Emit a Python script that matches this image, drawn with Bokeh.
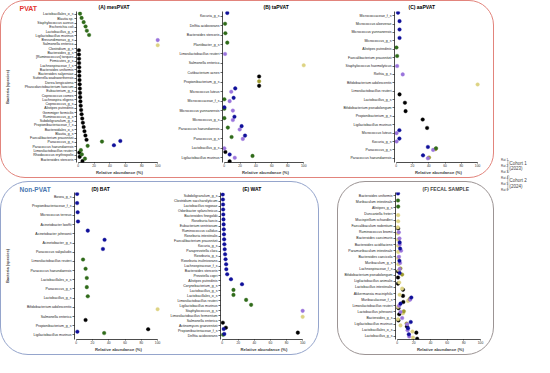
from bokeh.plotting import figure
from bokeh.models import (Range1d, FactorRange, FixedTicker, Label, Legend, LegendItem,
                          BoxAnnotation, ColumnDataSource, Spacer)
from bokeh.layouts import row, column
from bokeh.transform import dodge
from bokeh.embed import file_html
from bokeh.resources import INLINE

FONT = "Liberation Sans"
RAT_LABELS = ["Rat 1", "Rat 2", "Rat 3", "Rat 4", "Rat 5", "Rat 6"]
RAT_COLORS = ["#000000", "#ddd383", "#9e9b2e", "#9a74dc", "#2f6b1a", "#10109a"]
RAT_DODGE = [-0.38, -0.2, 0.1, 0.0, 0.2, 0.35]
X_TICKS = [0, 20, 40, 60, 80, 100]
COHORT_TEXT = ["Cohort 1", "(2023)", "Cohort 2", "(2024)"]
PANEL_TITLES = ["(A) mesPVAT", "(B) taPVAT", "(C) aaPVAT", "(D) BAT", "(E) WAT", "(F) FECAL SAMPLE"]
GROUP_TITLES = ["PVAT", "Non-PVAT"]

# ---------------- (A) mesPVAT ----------------
A_SPECIES = ["Lactobacillales_o_s", "Blautia sp.", "Staphylococcus aureus", "Escherichia coli",
             "Lactobacillus_g_s", "Ligilactobacillus murinus", "Brevundimonas_g_s", "Salmonella enterica",
             "Clostridium_g_s", "Bacteroides_g_s", "[Ruminococcus] torques", "Firmicutes_p_s",
             "Lachnospiraceae_f_s", "Bacteroides uniformis", "Bacteroides salyersiae",
             "Sutterella wadsworthensis", "Dorea longicatena", "Phascolarctobacterium faecium",
             "Eubacterium_g_s", "Coprococcus comes", "Lachnospira eligens", "Coprococcus_g_s",
             "Alistipes putredinis", "Gemmiger formicilis", "Ruminococcus_g_s", "Subdoligranulum_g_s",
             "Propionibacteriaceae_f_s", "Bacteroidales_o_s", "Blautia_g_s", "Faecalibacterium prausnitzii",
             "Paracoccus_g_s", "Paracoccus haeundaensis", "Limosilactobacillus reuteri",
             "Rhodococcus erythropolis", "Bacteroides stercoris"]
A_POINTS = [
    ("Lactobacillales_o_s", 5, 2.4), ("Blautia sp.", 5, 4.4), ("Staphylococcus aureus", 5, 7.0),
    ("Escherichia coli", 5, 9.4), ("Lactobacillus_g_s", 5, 11.0), ("Ligilactobacillus murinus", 5, 13.8),
    ("Brevundimonas_g_s", 4, 100), ("Salmonella enterica", 2, 100),
    ("Clostridium_g_s", 1, 1.0), ("Bacteroides_g_s", 1, 1.1), ("[Ruminococcus] torques", 1, 1.2),
    ("Firmicutes_p_s", 1, 1.3), ("Lachnospiraceae_f_s", 1, 1.4), ("Bacteroides uniformis", 1, 1.5),
    ("Bacteroides salyersiae", 1, 1.6), ("Sutterella wadsworthensis", 1, 1.8), ("Dorea longicatena", 1, 2.0),
    ("Phascolarctobacterium faecium", 1, 2.2), ("Eubacterium_g_s", 1, 2.4), ("Coprococcus comes", 1, 2.6),
    ("Lachnospira eligens", 1, 2.9), ("Coprococcus_g_s", 1, 3.3), ("Alistipes putredinis", 1, 3.8),
    ("Gemmiger formicilis", 1, 4.4), ("Ruminococcus_g_s", 1, 5.2), ("Subdoligranulum_g_s", 1, 6.0),
    ("Propionibacteriaceae_f_s", 1, 7.0), ("Bacteroidales_o_s", 1, 8.0), ("Blautia_g_s", 1, 9.2),
    ("Faecalibacterium prausnitzii", 1, 10.6),
    ("Paracoccus_g_s", 5, 30), ("Paracoccus_g_s", 6, 53),
    ("Paracoccus haeundaensis", 6, 45), ("Paracoccus haeundaensis", 5, 12),
    ("Limosilactobacillus reuteri", 5, 3.5), ("Limosilactobacillus reuteri", 1, 1.5),
    ("Rhodococcus erythropolis", 5, 4.7), ("Rhodococcus erythropolis", 1, 2.0),
    ("Bacteroides stercoris", 5, 8.6), ("Bacteroides stercoris", 1, 5.5),
]

# ---------------- (B) taPVAT ----------------
B_SPECIES = ["Kocuria_g_s", "Delftia acidovorans", "Bacteroides stercoris", "Plantibacter_g_s",
             "Limosilactobacillus reuteri", "Salmonella enterica", "Cutibacterium acnes",
             "Propionibacterium_g_s", "Micrococcus luteus", "Micrococcaceae_f_s", "Micrococcus yunnanensis",
             "Micrococcus_g_s", "Paracoccus haeundaensis", "Paracoccus_g_s", "Lactobacillus_g_s",
             "Ligilactobacillus murinus"]
B_POINTS = [
    ("Kocuria_g_s", 6, 4), ("Delftia acidovorans", 5, 1.2), ("Bacteroides stercoris", 5, 1.6),
    ("Plantibacter_g_s", 5, 4), ("Limosilactobacillus reuteri", 4, 1.2), ("Salmonella enterica", 2, 100),
    ("Cutibacterium acnes", 1, 44), ("Propionibacterium_g_s", 3, 44), ("Propionibacterium_g_s", 1, 44),
    ("Micrococcus luteus", 6, 14), ("Micrococcus luteus", 4, 9),
    ("Micrococcaceae_f_s", 6, 12), ("Micrococcaceae_f_s", 4, 7), ("Micrococcaceae_f_s", 5, 0.3),
    ("Micrococcus yunnanensis", 6, 0.3), ("Micrococcus yunnanensis", 5, 0.3), ("Micrococcus yunnanensis", 4, 11),
    ("Micrococcus_g_s", 6, 13), ("Micrococcus_g_s", 4, 11), ("Micrococcus_g_s", 5, 0.3),
    ("Paracoccus haeundaensis", 6, 22), ("Paracoccus haeundaensis", 4, 19.6), ("Paracoccus haeundaensis", 5, 4.7),
    ("Paracoccus_g_s", 6, 26.3), ("Paracoccus_g_s", 4, 23.5), ("Paracoccus_g_s", 5, 9.4),
    ("Lactobacillus_g_s", 4, 0.3), ("Lactobacillus_g_s", 1, 1.6),
    ("Ligilactobacillus murinus", 1, 7), ("Ligilactobacillus murinus", 6, 7),
    ("Ligilactobacillus murinus", 4, 13.4), ("Ligilactobacillus murinus", 5, 35.7),
]

# ---------------- (C) aaPVAT ----------------
C_SPECIES = ["Micrococcaceae_f_s", "Micrococcus aloeverae", "Micrococcus yunnanensis", "Micrococcus_g_s",
             "Alistipes putredinis", "Faecalibacterium prausnitzii", "Staphylococcus haemolyticus", "Rothia_g_s",
             "Bifidobacterium adolescentis", "Limosilactobacillus reuteri", "Lactobacillus_g_s",
             "Bifidobacterium pseudolongum", "Propionibacterium_g_s", "Ligilactobacillus murinus",
             "Micrococcus luteus", "Kocuria_g_s", "Paracoccus_g_s", "Paracoccus haeundaensis"]
C_POINTS = [
    ("Micrococcaceae_f_s", 6, 2.3), ("Micrococcus aloeverae", 6, 4.2), ("Micrococcus yunnanensis", 6, 4.2),
    ("Micrococcus_g_s", 6, 4.2), ("Alistipes putredinis", 5, 0.4), ("Faecalibacterium prausnitzii", 5, 1.2),
    ("Staphylococcus haemolyticus", 4, 1.2), ("Rothia_g_s", 4, 8.1), ("Bifidobacterium adolescentis", 2, 100),
    ("Limosilactobacillus reuteri", 1, 4.2), ("Lactobacillus_g_s", 1, 10.8),
    ("Bifidobacterium pseudolongum", 1, 11.6), ("Propionibacterium_g_s", 1, 32.6),
    ("Ligilactobacillus murinus", 1, 38), ("Micrococcus luteus", 6, 4), ("Micrococcus luteus", 4, 0.6),
    ("Kocuria_g_s", 6, 4), ("Kocuria_g_s", 4, 0.6),
    ("Paracoccus_g_s", 6, 39), ("Paracoccus_g_s", 4, 45.4), ("Paracoccus_g_s", 5, 49), ("Paracoccus_g_s", 3, 48.4),
    ("Paracoccus haeundaensis", 6, 33), ("Paracoccus haeundaensis", 4, 39), ("Paracoccus haeundaensis", 3, 40.4),
]

# ---------------- (D) BAT ----------------
D_SPECIES = ["Bosea_g_s", "Propionibacteriaceae_f_s", "Micrococcus terreus", "Acinetobacter lwoffii",
             "Acinetobacter johnsonii", "Acinetobacter_g_s", "Paracoccus salipaludis",
             "Limosilactobacillus reuteri", "Paracoccus haeundaensis", "Lactobacillales_o_s", "Paracoccus_g_s",
             "Lactobacillus_g_s", "Bifidobacterium adolescentis", "Salmonella enterica",
             "Propionibacterium_g_s", "Ligilactobacillus murinus"]
D_POINTS = [
    ("Bosea_g_s", 6, 1.2), ("Propionibacteriaceae_f_s", 6, 1.2), ("Micrococcus terreus", 6, 1.9),
    ("Acinetobacter lwoffii", 6, 2.3), ("Acinetobacter johnsonii", 6, 14.3), ("Acinetobacter_g_s", 6, 34.9),
    ("Paracoccus salipaludis", 6, 32.9), ("Limosilactobacillus reuteri", 5, 8.5),
    ("Paracoccus haeundaensis", 5, 11.6), ("Lactobacillales_o_s", 5, 13.1), ("Paracoccus_g_s", 5, 13.1),
    ("Lactobacillus_g_s", 5, 14.3), ("Bifidobacterium adolescentis", 2, 100), ("Salmonella enterica", 1, 11.6),
    ("Propionibacterium_g_s", 1, 88.4), ("Ligilactobacillus murinus", 6, 1.5), ("Ligilactobacillus murinus", 5, 34.4),
]

# ---------------- (E) WAT ----------------
E_SPECIES = ["Subdoligranulum_g_s", "Clostridium saccharolyticum", "Lactobacillus rogosae",
             "Odoribacter splanchnicus", "Bacteroides finegoldii", "Roseburia faecis", "Eubacterium ventriosum",
             "Ruminococcus callidus", "Roseburia intestinalis", "Faecalibacterium prausnitzii", "Kocuria_g_s",
             "Paraprevotella clara", "Roseburia_g_s", "Roseburia inulinivorans", "Lachnospiraceae_f_s",
             "Bacteroides stercoris", "Prevotella copri", "Alistipes putredinis", "Corynebacterium_g_s",
             "Lactobacillus_g_s", "Lactobacillales_o_s", "Limosilactobacillus reuteri",
             "Ligilactobacillus murinus", "Staphylococcus_g_s", "Limosilactobacillus fermentum",
             "Salmonella enterica", "Actinomyces graevenitzii", "Propionibacteriaceae_f_s", "Delftia acidovorans"]
E_POINTS = [
    ("Subdoligranulum_g_s", 6, 0.8), ("Clostridium saccharolyticum", 6, 1.0), ("Lactobacillus rogosae", 6, 1.2),
    ("Odoribacter splanchnicus", 6, 1.3), ("Bacteroides finegoldii", 6, 1.5), ("Roseburia faecis", 6, 1.7),
    ("Eubacterium ventriosum", 6, 1.9), ("Ruminococcus callidus", 6, 2.1), ("Roseburia intestinalis", 6, 2.3),
    ("Faecalibacterium prausnitzii", 6, 2.5), ("Kocuria_g_s", 6, 2.8), ("Paraprevotella clara", 6, 3.2),
    ("Roseburia_g_s", 6, 3.7), ("Roseburia inulinivorans", 6, 4.3), ("Lachnospiraceae_f_s", 6, 5.0),
    ("Bacteroides stercoris", 6, 5.2), ("Prevotella copri", 6, 6.3), ("Alistipes putredinis", 6, 11),
    ("Corynebacterium_g_s", 6, 24.7), ("Lactobacillus_g_s", 5, 14.1), ("Lactobacillales_o_s", 5, 14.1),
    ("Limosilactobacillus reuteri", 5, 29.8), ("Ligilactobacillus murinus", 5, 36),
    ("Staphylococcus_g_s", 4, 100), ("Limosilactobacillus fermentum", 2, 100), ("Salmonella enterica", 1, 0.9),
    ("Actinomyces graevenitzii", 1, 4.7), ("Propionibacteriaceae_f_s", 6, 2.0),
    ("Propionibacteriaceae_f_s", 1, 94), ("Delftia acidovorans", 5, 1.2), ("Delftia acidovorans", 6, 2.7),
]

# ---------------- (F) FECAL SAMPLE ----------------
F_SPECIES = ["Bacteroides uniformis", "Muribaculum intestinale", "Alistipes_g_s", "Duncaniella freteri",
             "Mucispirillum schaedleri", "Faecalibaculum rodentium", "Ruminococcus bromii",
             "Bacteroides caecimuris", "Bacteroides acidifaciens", "Paramuribaculum intestinale",
             "Bacteroides caecicola", "Muribaculum_g_s", "Lachnospiraceae_f_s", "Bifidobacterium pseudolongum",
             "Ligilactobacillus animalis", "Lactobacillus intestinalis", "Akkermansia muciniphila",
             "Muribaculaceae_f_s", "Limosilactobacillus reuteri", "Lactobacillus johnsonii", "Bacteroides_g_s",
             "Ligilactobacillus murinus", "Lactobacillales_o_s", "Lactobacillus_g_s"]
F_POINTS = [
    ("Bacteroides uniformis", 6, 1.0), ("Muribaculum intestinale", 5, 1.0), ("Alistipes_g_s", 5, 1.2),
    ("Duncaniella freteri", 2, 1.2), ("Mucispirillum schaedleri", 2, 1.2),
    ("Faecalibaculum rodentium", 1, 1.2), ("Faecalibaculum rodentium", 2, 0.8),
    ("Ruminococcus bromii", 2, 0.8), ("Ruminococcus bromii", 4, 2.0),
    ("Bacteroides caecimuris", 4, 2.8), ("Bacteroides caecimuris", 2, 1.0),
    ("Bacteroides acidifaciens", 6, 3.0), ("Bacteroides acidifaciens", 4, 3.1), ("Bacteroides acidifaciens", 2, 1.2),
    ("Paramuribaculum intestinale", 4, 4.7), ("Paramuribaculum intestinale", 6, 3.5),
    ("Paramuribaculum intestinale", 2, 1.2),
    ("Bacteroides caecicola", 4, 2.2), ("Bacteroides caecicola", 2, 1.2),
    ("Muribaculum_g_s", 4, 3.5), ("Muribaculum_g_s", 6, 2.7), ("Muribaculum_g_s", 2, 1.5),
    ("Lachnospiraceae_f_s", 1, 1.0), ("Lachnospiraceae_f_s", 2, 2.0), ("Lachnospiraceae_f_s", 4, 3.0),
    ("Lachnospiraceae_f_s", 3, 4.0),
    ("Bifidobacterium pseudolongum", 6, 3.0), ("Bifidobacterium pseudolongum", 3, 6.0),
    ("Bifidobacterium pseudolongum", 1, 1.0),
    ("Ligilactobacillus animalis", 1, 1.0), ("Ligilactobacillus animalis", 2, 2.5),
    ("Lactobacillus intestinalis", 2, 6.0), ("Lactobacillus intestinalis", 1, 7.0),
    ("Akkermansia muciniphila", 2, 3.0), ("Akkermansia muciniphila", 1, 7.0),
    ("Muribaculaceae_f_s", 6, 17), ("Muribaculaceae_f_s", 4, 15.5), ("Muribaculaceae_f_s", 3, 15),
    ("Muribaculaceae_f_s", 2, 13), ("Muribaculaceae_f_s", 1, 7.4),
    ("Limosilactobacillus reuteri", 6, 4.0), ("Limosilactobacillus reuteri", 4, 2.3),
    ("Limosilactobacillus reuteri", 1, 1.5), ("Limosilactobacillus reuteri", 2, 1.0),
    ("Lactobacillus johnsonii", 1, 2.5), ("Lactobacillus johnsonii", 2, 7.0), ("Lactobacillus johnsonii", 3, 8.0),
    ("Lactobacillus johnsonii", 4, 4.0),
    ("Bacteroides_g_s", 1, 1.5), ("Bacteroides_g_s", 4, 6.0), ("Bacteroides_g_s", 2, 1.0),
    ("Ligilactobacillus murinus", 6, 16.3), ("Ligilactobacillus murinus", 3, 11.3),
    ("Ligilactobacillus murinus", 1, 11.7), ("Ligilactobacillus murinus", 4, 12),
    ("Ligilactobacillus murinus", 2, 4.0),
    ("Lactobacillales_o_s", 4, 12.5), ("Lactobacillales_o_s", 2, 18.3), ("Lactobacillales_o_s", 1, 23),
    ("Lactobacillales_o_s", 6, 13),
    ("Lactobacillus_g_s", 4, 14.4), ("Lactobacillus_g_s", 2, 19), ("Lactobacillus_g_s", 1, 24),
    ("Lactobacillus_g_s", 6, 14),
]


def make_panel(species, points, width, height, borders, pad, ylabel=None, ylabel_standoff=0,
               title=None, title_offset=0):
    left, right, top, bottom = borders
    p = figure(width=width, height=height, output_backend="svg", toolbar_location=None,
               title=title,
               x_range=Range1d(-2, 106),
               y_range=FactorRange(factors=species[::-1], range_padding=pad,
                                   range_padding_units="absolute"),
               min_border_left=left, min_border_right=right,
               min_border_top=top, min_border_bottom=bottom)
    p.background_fill_color = None
    p.border_fill_color = None
    p.outline_line_color = None
    p.xgrid.visible = False
    p.ygrid.visible = False
    if title:
        p.title.text_font = FONT
        p.title.text_font_size = "5px"
        p.title.text_font_style = "bold"
        p.title.align = "left"
        p.title.offset = title_offset
        p.title.standoff = 1

    for i in range(6):
        sel = [(s, v) for s, r, v in points if r == i + 1]
        if not sel:
            continue
        src = ColumnDataSource(dict(species=[s for s, _ in sel], value=[v for _, v in sel]))
        p.scatter(x="value", y=dodge("species", RAT_DODGE[i], range=p.y_range), source=src,
                  size=3.6, fill_color=RAT_COLORS[i], line_color=RAT_COLORS[i], line_width=0.4)

    xa = p.xaxis[0]
    xa.ticker = FixedTicker(ticks=X_TICKS, minor_ticks=[])
    xa.bounds = (0, 100)
    xa.axis_label = "Relative abundance (%)"
    xa.axis_label_text_font = FONT
    xa.axis_label_text_font_size = "4.2px"
    xa.axis_label_text_font_style = "bold"
    xa.axis_label_standoff = 0
    xa.major_label_text_font = FONT
    xa.major_label_text_font_size = "3.3px"
    xa.major_label_text_color = "#333333"
    xa.major_label_standoff = 0
    xa.major_tick_out = 1
    xa.major_tick_in = 0
    xa.minor_tick_out = 0
    xa.minor_tick_in = 0
    xa.axis_line_width = 0.7
    xa.major_tick_line_width = 0.6

    ya = p.yaxis[0]
    ya.major_label_text_font = FONT
    ya.major_label_text_font_size = "3.5px"
    ya.major_label_text_color = "#222222"
    ya.major_label_standoff = 1
    ya.major_tick_out = 2
    ya.major_tick_in = 0
    ya.axis_line_width = 0.7
    ya.major_tick_line_width = 0.6
    if ylabel:
        ya.axis_label = ylabel
        ya.axis_label_text_font = FONT
        ya.axis_label_text_font_size = "4px"
        ya.axis_label_text_font_style = "bold"
        ya.axis_label_standoff = ylabel_standoff
    return p


def make_header(width, height, texts):
    """A strip holding panel titles; its data units are pixels from the bottom-left."""
    h = figure(frame_width=width, frame_height=height, title=None,
               output_backend="svg", toolbar_location=None,
               x_range=Range1d(0, width), y_range=Range1d(0, height),
               x_axis_type=None, y_axis_type=None,
               min_border_left=0, min_border_right=0, min_border_top=0, min_border_bottom=0)
    h.outline_line_color = None
    h.background_fill_color = None
    h.border_fill_color = None
    for txt, x, y, size, color in texts:
        h.add_layout(Label(x=x, y=y, text=txt, text_font=FONT, text_font_size=size,
                           text_font_style="bold", text_color=color,
                           text_baseline="middle", text_align="left"))
    return h


pA = make_panel(A_SPECIES, A_POINTS, 174, 166, (72, 13, 0, 13), 0.2,
                ylabel="Bacteria (species)", ylabel_standoff=12)
pB = make_panel(B_SPECIES, B_POINTS, 165, 166, (43, 32, 0, 13), 0.0)
pC = make_panel(C_SPECIES, C_POINTS, 153, 166, (51, 11, 0, 13), 0.0)
pD = make_panel(D_SPECIES, D_POINTS, 166, 162, (70, 5, 0, 10), 0.0,
                ylabel="Bacteria (species)", ylabel_standoff=14)
pE = make_panel(E_SPECIES, E_POINTS, 151, 162, (51, 11, 0, 10), 0.25)
pF = make_panel(F_SPECIES, F_POINTS, 155, 172, (57, 8, 10, 10), 0.0,
                title=PANEL_TITLES[5], title_offset=27)

top_header = make_header(492, 10, [
    (GROUP_TITLES[0], 18, 4.7, "7px", "#e3342f"),
    (PANEL_TITLES[0], 97, 6.1, "5px", "black"),
    (PANEL_TITLES[1], 262, 6.1, "5px", "black"),
    (PANEL_TITLES[2], 407, 6.1, "5px", "black"),
])
nonpvat_header = make_header(317, 10, [
    (GROUP_TITLES[1], 18, 5.2, "6.5px", "#4a78b0"),
    (PANEL_TITLES[3], 90, 5.6, "5px", "black"),
    (PANEL_TITLES[4], 241, 5.6, "5px", "black"),
])

# ---------------- legend column ----------------
LEG_W, LEG_H = 40, 355
leg = figure(frame_width=LEG_W, frame_height=LEG_H, title=None,
             output_backend="svg", toolbar_location=None,
             x_range=Range1d(0, LEG_W), y_range=Range1d(0, LEG_H), x_axis_type=None, y_axis_type=None,
             min_border_left=0, min_border_right=0, min_border_top=0, min_border_bottom=0)
leg.outline_line_color = None
leg.background_fill_color = None
leg.border_fill_color = None
items = []
for i in range(6):
    r = leg.scatter(x=[], y=[], size=3.6, fill_color=RAT_COLORS[i], line_color=RAT_COLORS[i])
    items.append(LegendItem(label=RAT_LABELS[i], renderers=[r]))
legend = Legend(items=items, location=(0, 162), glyph_width=6, glyph_height=6, label_height=6,
                label_width=8, spacing=0, padding=0, margin=0, label_standoff=1,
                border_line_color=None, background_fill_alpha=0,
                label_text_font=FONT, label_text_font_size="3px")
leg.add_layout(legend)
for top, bottom in [(195, 183), (180, 166)]:
    leg.add_layout(BoxAnnotation(left=13, right=14.5, top=top, bottom=bottom,
                                 fill_alpha=0, line_color="black", line_width=0.6))
for txt, y in zip(COHORT_TEXT, [192.5, 186.7, 174.7, 168.9]):
    leg.add_layout(Label(x=15, y=y, text=txt, text_font=FONT, text_font_size="4.5px",
                         text_baseline="middle"))

top_box = column(top_header, row(pA, pB, pC),
                 styles={"border": "1px solid #e2847c", "border-radius": "25px"})
nonpvat_box = column(nonpvat_header, row(pD, pE),
                     styles={"border": "1px solid #95a5cc", "border-radius": "28px"})
fecal_box = row(pF, styles={"border": "1px solid #9c9494", "border-radius": "28px"})
bottom_row = row(nonpvat_box, Spacer(width=18), fecal_box)
layout = row(column(top_box, bottom_row, spacing=3), leg)

open("out.html", "w").write(file_html(layout, INLINE))
